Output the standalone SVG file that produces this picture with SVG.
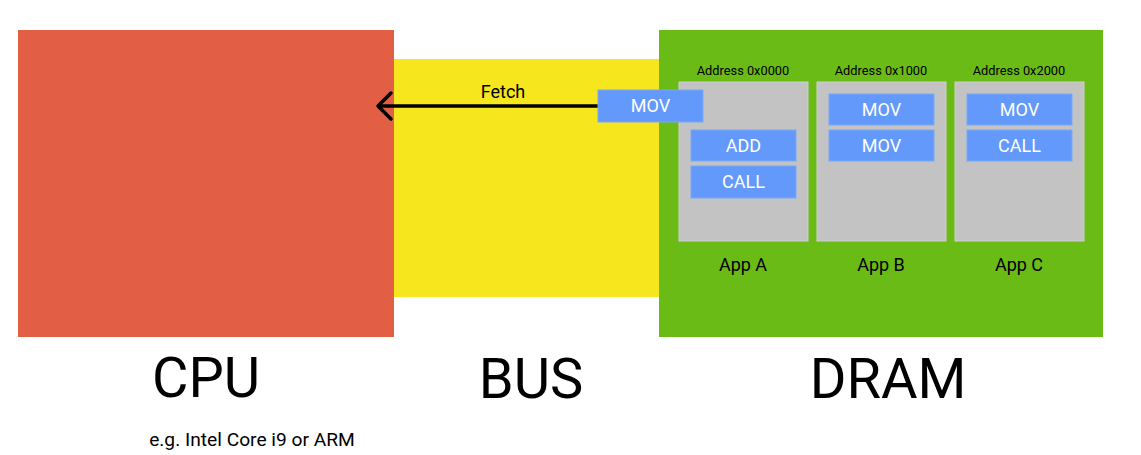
<svg xmlns="http://www.w3.org/2000/svg" width="1141" height="455" viewBox="0 0 1141 455">
<defs>
<style>
text{font-family:Roboto,"Liberation Sans",sans-serif;fill:#000}
.big{font-size:56px;text-anchor:middle}
.lbl{font-size:18px;text-anchor:middle}
.addr{font-size:12.8px;text-anchor:middle}
.ins rect{fill:#6399fa;stroke:#7aa8f5;stroke-width:1}
.ins text{fill:#fff;font-size:18px;text-anchor:middle}
.app{fill:#c3c3c3;stroke:#cfcfcf;stroke-width:1}
</style>
</defs>
<rect width="1141" height="455" fill="#fff"/>
<g id="bus"><rect x="394" y="59" width="265" height="238" fill="#f5e61e"/></g>
<g id="cpu"><rect x="18" y="30" width="376" height="307" fill="#e25e44"/></g>
<g id="dram"><rect x="659" y="30" width="444" height="307" fill="#6bbb16"/></g>
<g id="appA">
<rect class="app" x="679" y="82" width="129" height="159"/>
<text class="addr" x="743" y="75">Address 0x0000</text>
<text class="lbl" x="743" y="271">App A</text>
</g>
<g id="appB">
<rect class="app" x="817" y="82" width="129" height="159"/>
<text class="addr" x="881" y="75">Address 0x1000</text>
<text class="lbl" x="881" y="271">App B</text>
</g>
<g id="appC">
<rect class="app" x="955" y="82" width="129" height="159"/>
<text class="addr" x="1019" y="75">Address 0x2000</text>
<text class="lbl" x="1019" y="271">App C</text>
</g>
<g id="a-add" class="ins"><rect x="691" y="130" width="105" height="31"/><text x="743.5" y="152">ADD</text></g>
<g id="a-call" class="ins"><rect x="691" y="166" width="105" height="32"/><text x="743.5" y="188">CALL</text></g>
<g id="b-mov1" class="ins"><rect x="829" y="94" width="105" height="31"/><text x="881.5" y="116">MOV</text></g>
<g id="b-mov2" class="ins"><rect x="829" y="130" width="105" height="31"/><text x="881.5" y="152">MOV</text></g>
<g id="c-mov" class="ins"><rect x="967" y="94" width="105" height="31"/><text x="1019.5" y="116">MOV</text></g>
<g id="c-call" class="ins"><rect x="967" y="130" width="105" height="31"/><text x="1019.5" y="152">CALL</text></g>
<g id="connectors">
<path d="M598 106 H379" stroke="#000" stroke-width="3.5" fill="none"/>
<path d="M391 93 L378 106 L391 119" stroke="#000" stroke-width="3.5" fill="none" stroke-linecap="round" stroke-linejoin="round"/>
<text class="lbl" x="503" y="98">Fetch</text>
</g>
<g id="moving-mov" class="ins"><rect x="598" y="90" width="105" height="32"/><text x="650.5" y="112">MOV</text></g>
<g id="labels">
<text class="big" x="206" y="397">CPU</text>
<text class="big" x="531" y="398">BUS</text>
<text class="big" x="888" y="398">DRAM</text>
<text x="252" y="446" font-size="19.2" text-anchor="middle">e.g. Intel Core i9 or ARM</text>
</g>
</svg>
